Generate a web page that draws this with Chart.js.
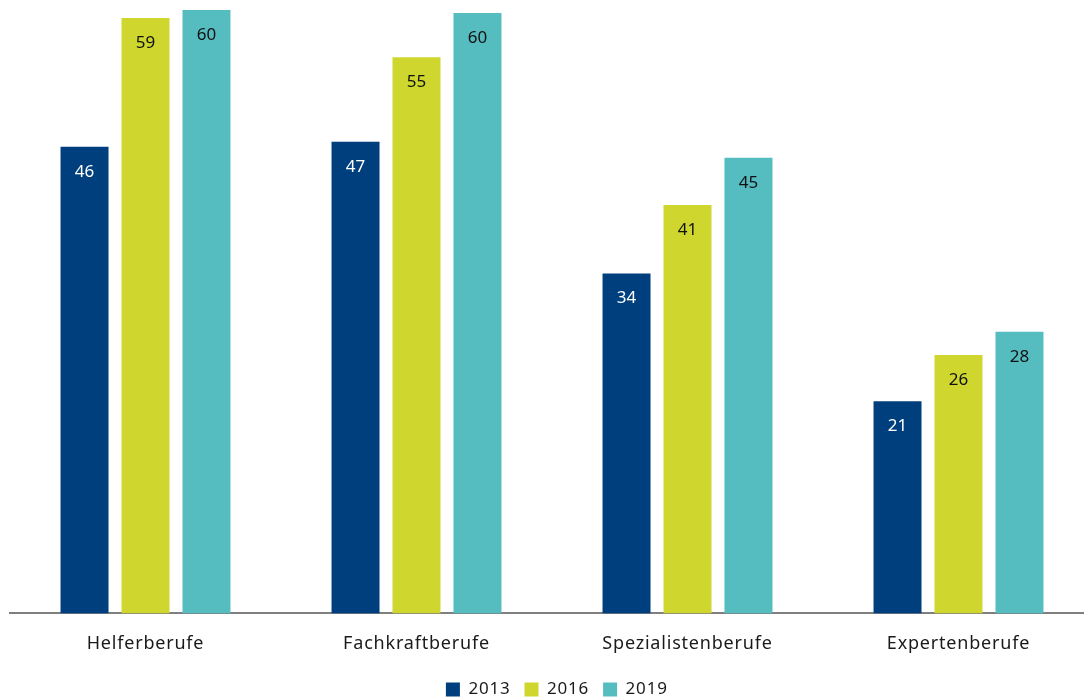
<!DOCTYPE html>
<html>
<head>
<meta charset="utf-8">
<script src="https://cdn.jsdelivr.net/npm/chart.js@4"></script>
<style>
  html, body { margin: 0; padding: 0; background: #fff; overflow: hidden; }
  #wrap { width: 1084px; height: 698px; overflow: hidden; position: relative; }
  #inner { width: 1094px; height: 708px; position: absolute; left: 0; top: 0; }
</style>
</head>
<body>
<div id="wrap"><div id="inner"><canvas id="chart"></canvas></div></div>
<script>
// data
const categories = ['Helferberufe', 'Fachkraftberufe', 'Spezialistenberufe', 'Expertenberufe'];
const years = ['2013', '2016', '2019'];
const values2013 = [46.4, 46.9, 33.8, 21.1];
const values2016 = [59.2, 55.3, 40.6, 25.7];
const values2019 = [60.0, 59.7, 45.3, 28.0];
const colors = ['#003f7d', '#cfd72f', '#55bdc0'];
const labelColors = ['#ffffff', '#111111', '#111111'];

const FONT = "'Noto Sans', sans-serif";

// wider letter spacing for axis and legend text, normal for bar values
const spacing = {
  id: 'spacing',
  beforeDraw(chart) { chart.ctx.letterSpacing = '0.8px'; },
  beforeDatasetsDraw(chart) { chart.ctx.letterSpacing = '0px'; }
};

// values written inside the top of each bar
const barLabels = {
  id: 'barLabels',
  afterDatasetsDraw(chart) {
    const ctx = chart.ctx;
    ctx.save();
    ctx.letterSpacing = '0px';
    ctx.font = '17px ' + FONT;
    ctx.textAlign = 'center';
    ctx.textBaseline = 'middle';
    chart.data.datasets.forEach((ds, i) => {
      chart.getDatasetMeta(i).data.forEach((bar, j) => {
        ctx.fillStyle = labelColors[i];
        ctx.fillText(Math.round(ds.data[j]), bar.x, bar.y + 25);
      });
    });
    ctx.restore();
  }
};

new Chart(document.getElementById('chart'), {
  type: 'bar',
  data: {
    labels: categories,
    datasets: [
      { label: years[0], data: values2013, backgroundColor: colors[0] },
      { label: years[1], data: values2016, backgroundColor: colors[1] },
      { label: years[2], data: values2019, backgroundColor: colors[2] }
    ]
  },
  options: {
    responsive: true,
    maintainAspectRatio: false,
    animation: false,
    categoryPercentage: 0.675,
    barPercentage: 0.787,
    layout: { padding: { top: 10, left: 10, right: 0, bottom: 0 } },
    scales: {
      x: {
        grid: { display: false },
        border: { display: true, color: '#7f7f7f', width: 2 },
        ticks: { color: '#1a1a1a', font: { family: FONT, size: 18 }, padding: 12 }
      },
      y: {
        display: false,
        min: 0,
        max: 60
      }
    },
    plugins: {
      legend: {
        position: 'bottom',
        labels: {
          boxWidth: 14,
          boxHeight: 14,
          padding: 14,
          color: '#1a1a1a',
          font: { family: FONT, size: 17 }
        }
      },
      tooltip: { enabled: false }
    }
  },
  plugins: [spacing, barLabels]
});
</script>
</body>
</html>
